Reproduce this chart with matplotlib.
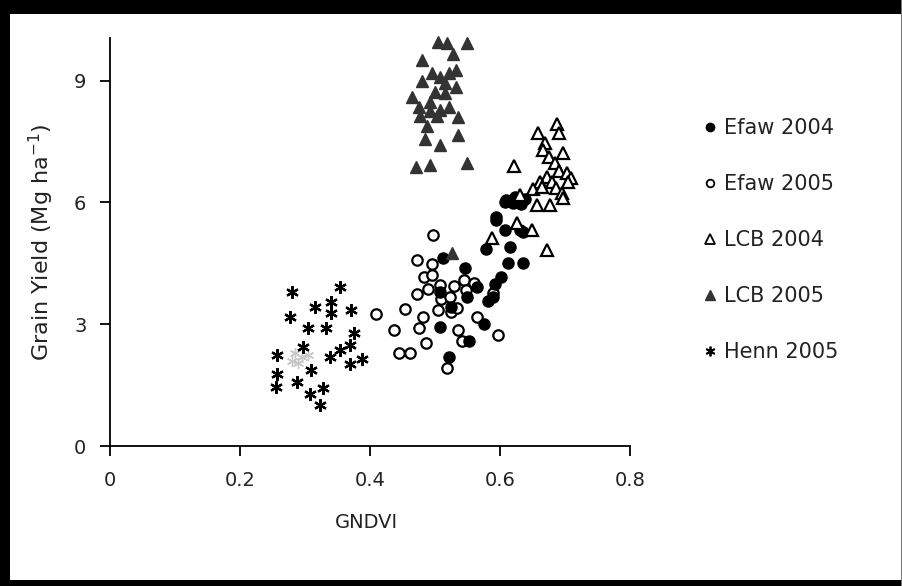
import matplotlib
matplotlib.use("Agg")
import matplotlib.pyplot as plt
from matplotlib.patches import Rectangle
from matplotlib.lines import Line2D

# ---------------- data ----------------
efaw04_x = [0.513, 0.546, 0.549, 0.564, 0.508, 0.524, 0.508, 0.553, 0.521, 0.575,
            0.579, 0.608, 0.615, 0.613, 0.635, 0.601, 0.592, 0.590, 0.582, 0.594,
            0.635, 0.608, 0.620, 0.632, 0.594, 0.631, 0.610, 0.623, 0.639]
efaw04_y = [4.62, 4.38, 3.68, 3.92, 3.80, 3.42, 2.92, 2.59, 2.20, 3.00,
            4.85, 5.32, 4.89, 4.52, 4.52, 4.17, 3.99, 3.68, 3.58, 5.57,
            5.28, 6.02, 5.98, 5.96, 5.65, 5.32, 6.06, 6.13, 6.08]

efaw05_x = [0.497, 0.473, 0.496, 0.483, 0.495, 0.489, 0.473, 0.508, 0.509, 0.523,
            0.529, 0.545, 0.548, 0.560, 0.454, 0.481, 0.504, 0.524, 0.534, 0.437,
            0.476, 0.486, 0.536, 0.541, 0.565, 0.597, 0.444, 0.461, 0.518, 0.409,
            0.590]
efaw05_y = [5.20, 4.58, 4.48, 4.16, 4.21, 3.86, 3.74, 3.97, 3.61, 3.68,
            3.94, 4.09, 3.84, 4.02, 3.37, 3.17, 3.35, 3.31, 3.39, 2.86,
            2.90, 2.54, 2.86, 2.59, 3.17, 2.73, 2.30, 2.30, 1.91, 3.25,
            3.76]

lcb04_x = [0.659, 0.688, 0.691, 0.669, 0.666, 0.676, 0.697, 0.621, 0.685, 0.691,
           0.703, 0.710, 0.672, 0.662, 0.680, 0.705, 0.651, 0.664, 0.686, 0.695,
           0.697, 0.631, 0.657, 0.677, 0.626, 0.649, 0.673, 0.587]
lcb04_y = [7.72, 7.93, 7.70, 7.46, 7.29, 7.13, 7.21, 6.90, 6.96, 6.77,
           6.72, 6.59, 6.63, 6.51, 6.51, 6.51, 6.32, 6.37, 6.35, 6.22,
           6.10, 6.18, 5.94, 5.94, 5.50, 5.32, 4.83, 5.12]

lcb05_x = [0.504, 0.518, 0.550, 0.528, 0.480, 0.533, 0.521, 0.495, 0.508, 0.480,
           0.515, 0.532, 0.500, 0.515, 0.464, 0.492, 0.476, 0.507, 0.522, 0.492,
           0.477, 0.536, 0.503, 0.487, 0.536, 0.485, 0.507, 0.471, 0.492, 0.550,
           0.526]
lcb05_y = [9.96, 9.92, 9.92, 9.66, 9.51, 9.26, 9.20, 9.18, 9.10, 9.00,
           8.93, 8.84, 8.73, 8.70, 8.60, 8.48, 8.34, 8.28, 8.34, 8.26,
           8.13, 8.10, 8.13, 7.88, 7.66, 7.55, 7.41, 6.88, 6.92, 6.96,
           4.75]

henn05_x = [0.280, 0.354, 0.315, 0.340, 0.340, 0.371, 0.277, 0.305, 0.332, 0.375,
            0.297, 0.369, 0.354, 0.257, 0.339, 0.387, 0.369, 0.257, 0.310, 0.288,
            0.255, 0.327, 0.308, 0.323]
henn05_y = [3.79, 3.92, 3.43, 3.55, 3.28, 3.35, 3.17, 2.90, 2.91, 2.79,
            2.43, 2.49, 2.37, 2.24, 2.18, 2.14, 2.02, 1.77, 1.87, 1.58,
            1.45, 1.42, 1.28, 1.01]

# faint (light grey) Henn points partly hidden in the cluster
henn05_faint_x = [0.285, 0.295, 0.290, 0.305, 0.280]
henn05_faint_y = [2.30, 2.20, 2.05, 2.25, 2.10]

x_ticks = [0, 0.2, 0.4, 0.6, 0.8]
x_ticklabels = ["0", "0.2", "0.4", "0.6", "0.8"]
y_ticks = [0, 3, 6, 9]
y_ticklabels = ["0", "3", "6", "9"]

labels = ["Efaw 2004", "Efaw 2005", "LCB 2004", "LCB 2005", "Henn 2005"]

# ---------------- figure ----------------
W, H = 903, 586
fig = plt.figure(figsize=(W / 100, H / 100), dpi=100)
fig.patch.set_facecolor("white")

ax = fig.add_axes([110 / W, 1 - 446 / H, 520 / W, (446 - 38) / H])
ax.set_xlim(0, 0.8)
ax.set_ylim(0, 10.05)

TXT = "#222222"
asterisk = (6, 2, 0)

ax.plot(henn05_faint_x, henn05_faint_y, ls="none", marker=asterisk, ms=8,
        mec="#c8c8c8", mew=1.0, clip_on=False, zorder=2)
h_henn, = ax.plot(henn05_x, henn05_y, ls="none", marker=asterisk, ms=9,
                  mec="black", mew=1.6, clip_on=False, zorder=3)
h_e05, = ax.plot(efaw05_x, efaw05_y, ls="none", marker="o", ms=7.5,
                 mfc="white", mec="black", mew=1.6, clip_on=False, zorder=3)
h_e04, = ax.plot(efaw04_x, efaw04_y, ls="none", marker="o", ms=8,
                 mfc="black", mec="black", mew=1.0, clip_on=False, zorder=4)
h_l04, = ax.plot(lcb04_x, lcb04_y, ls="none", marker="^", ms=8.5,
                 mfc="white", mec="black", mew=1.6, clip_on=False, zorder=5)
h_l05, = ax.plot(lcb05_x, lcb05_y, ls="none", marker="^", ms=9,
                 mfc="#333333", mec="#333333", mew=1.0, clip_on=False, zorder=5)

for s in ["top", "right"]:
    ax.spines[s].set_visible(False)
for s in ["left", "bottom"]:
    ax.spines[s].set_linewidth(1.3)
    ax.spines[s].set_color("black")

ax.set_xticks(x_ticks)
ax.set_xticklabels(x_ticklabels)
ax.set_yticks(y_ticks)
ax.set_yticklabels(y_ticklabels)
ax.tick_params(axis="both", direction="out", length=7, width=1.3,
               colors="black", labelcolor=TXT, labelsize=14)
ax.tick_params(axis="x", pad=11)
ax.tick_params(axis="y", pad=10)

fig.text(366 / W, 1 - 523 / H, "GNDVI", ha="center", va="center",
         fontsize=14, color=TXT)
fig.text(41 / W, 1 - 242 / H, "Grain Yield (Mg ha$^{-1}$)", ha="center",
         va="center", rotation=90, fontsize=16, color=TXT)

# legend
leg_handles = [
    Line2D([], [], ls="none", marker="o", ms=6, mfc="black", mec="black"),
    Line2D([], [], ls="none", marker="o", ms=5.5, mfc="white", mec="black", mew=1.3),
    Line2D([], [], ls="none", marker="^", ms=6.5, mfc="white", mec="black", mew=1.3),
    Line2D([], [], ls="none", marker="^", ms=7, mfc="#333333", mec="#333333"),
    Line2D([], [], ls="none", marker=asterisk, ms=7, mec="black", mew=1.3),
]
fig.legend(leg_handles, labels, loc="upper left",
           bbox_to_anchor=(703 / W, 1 - 118 / H), bbox_transform=fig.transFigure,
           frameon=False, fontsize=15, handlelength=0.7, handletextpad=0.3,
           labelspacing=1.73, borderpad=0, borderaxespad=0, labelcolor=TXT)

# outer frame (black border as in the reference)
fig.patches.append(Rectangle((0, 1 - 14 / H), 1, 14 / H, transform=fig.transFigure,
                             facecolor="black", edgecolor="none", zorder=10))
fig.patches.append(Rectangle((0, 0), 10 / W, 1, transform=fig.transFigure,
                             facecolor="black", edgecolor="none", zorder=10))
fig.patches.append(Rectangle((0, 0), 1, 6 / H, transform=fig.transFigure,
                             facecolor="black", edgecolor="none", zorder=10))
fig.patches.append(Rectangle((1 - 2 / W, 0), 2 / W, 1, transform=fig.transFigure,
                             facecolor="#777777", edgecolor="none", zorder=10))

fig.savefig("out.png", dpi=100)
